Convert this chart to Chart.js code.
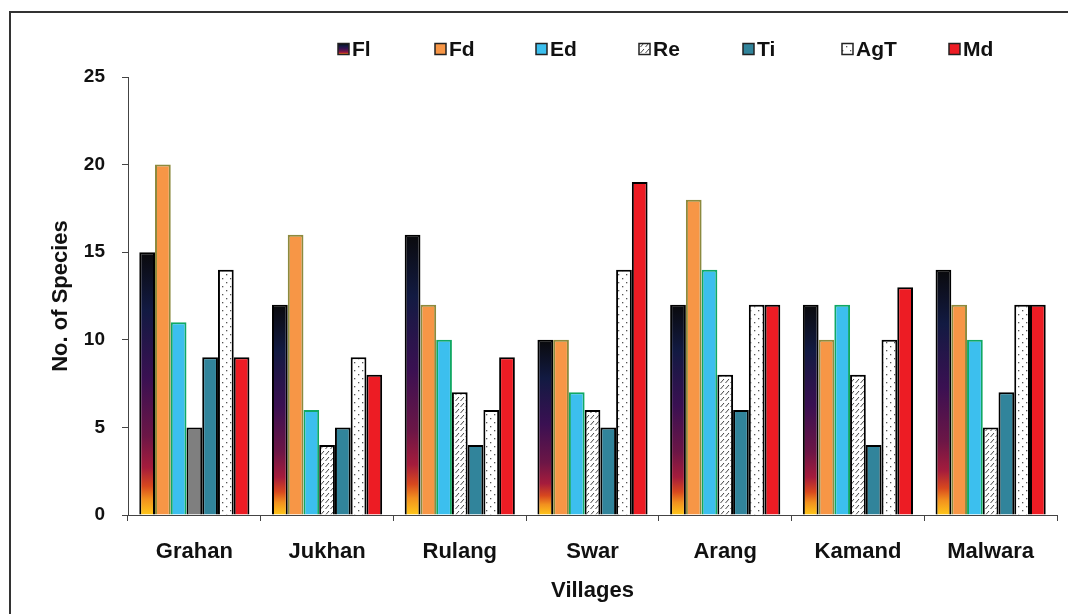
<!DOCTYPE html>
<html><head><meta charset="utf-8">
<script src="https://cdn.jsdelivr.net/npm/chart.js@4/dist/chart.umd.min.js"></script>
<style>html,body{margin:0;padding:0;background:#fff;}canvas{display:block}</style>
</head><body>
<canvas id="c" width="1068" height="614"></canvas>
<script>
const villages = ['Grahan','Jukhan','Rulang','Swar','Arang','Kamand','Malwara'];
const seriesNames = ['Fl','Fd','Ed','Re','Ti','AgT','Md'];
const Fl  = [15,12,16,10,12,12,14];
const Fd  = [20,16,12,10,18,10,12];
const Ed  = [11, 6,10, 7,14,12,10];
const Re  = [ 5, 4, 7, 6, 8, 8, 5];
const Ti  = [ 9, 5, 4, 5, 6, 4, 7];
const AgT = [14, 9, 6,14,12,10,12];
const Md  = [ 9, 8, 9,19,12,13,12];
const yMin = 0, yMax = 25, yStep = 5;
const xTitle = 'Villages';
const yTitle = 'No. of Species';

const FONT = "'Liberation Sans', Arial, sans-serif";

function makePattern(w, h, draw){
  const c = document.createElement('canvas'); c.width = w; c.height = h;
  const g = c.getContext('2d'); g.fillStyle = '#fff'; g.fillRect(0,0,w,h); draw(g);
  return document.getElementById('c').getContext('2d').createPattern(c, 'repeat');
}
const hatch = makePattern(5, 6, g => {
  g.strokeStyle = '#444'; g.lineWidth = 1;
  g.beginPath(); g.moveTo(0.5,5); g.lineTo(4,1); g.stroke();
});
const dots = makePattern(8, 8, g => {
  g.fillStyle = '#555'; g.fillRect(2,2,1.3,1.3); g.fillRect(6,6,1.3,1.3);
});

function gradStops(g){
  g.addColorStop(0, '#0a0a0c');
  g.addColorStop(0.22, '#121a42');
  g.addColorStop(0.48, '#3a1052');
  g.addColorStop(0.70, '#6c1646');
  g.addColorStop(0.82, '#a51c3c');
  g.addColorStop(0.89, '#d8481e');
  g.addColorStop(0.94, '#f2901e');
  g.addColorStop(1, '#ffc81a');
  return g;
}
function flFill(ctx){
  const chart = ctx.chart, y = chart.scales && chart.scales.y;
  if (!y || ctx.raw == null) return '#3a1052';
  const top = y.getPixelForValue(ctx.raw), bot = y.getPixelForValue(0);
  if (!isFinite(top) || !isFinite(bot) || top === bot) return '#3a1052';
  return gradStops(chart.ctx.createLinearGradient(0, top, 0, bot));
}
function reFill(ctx){ return ctx.dataIndex === 0 ? '#7f7f7f' : hatch; }

const seriesData = [Fl, Fd, Ed, Re, Ti, AgT, Md];
const fills   = [flFill, '#f79646', '#3cbfee', reFill, '#31849b', dots, '#ed1c24'];
const borders = ['#000', '#8c8a3e', '#10a864', '#000', '#000', '#000', '#000'];

const frame = {
  id: 'frame',
  beforeDraw(chart){
    const c = chart.ctx; c.save();
    c.fillStyle = '#fff'; c.fillRect(0,0,chart.width,chart.height);
    c.strokeStyle = '#333'; c.lineWidth = 2; c.strokeRect(10, 12, 1100, 700);
    c.restore();
  }
};
const legendPlugin = {
  id: 'customLegend',
  afterDraw(chart){
    const c = chart.ctx; c.save();
    const xs = [338, 435, 536, 639, 743, 842, 949];
    const yc = 49, bs = 11;
    c.font = "bold 21px " + FONT; c.textBaseline = 'middle'; c.fillStyle = '#111';
    chart.data.datasets.forEach((ds, i) => {
      const x = xs[i], y0 = yc - bs/2;
      let f = fills[i];
      if (i === 0) f = gradStops(c.createLinearGradient(0, y0, 0, y0+bs));
      else if (i === 3) f = hatch;
      c.fillStyle = f; c.fillRect(x, y0, bs, bs);
      c.strokeStyle = '#222'; c.lineWidth = 1.5; c.strokeRect(x, y0, bs, bs);
      c.fillStyle = '#111'; c.fillText(ds.label, x + bs + 3, yc + 1);
    });
    c.restore();
  }
};

new Chart(document.getElementById('c'), {
  type: 'bar',
  data: {
    labels: villages,
    datasets: seriesNames.map((n, i) => ({
      label: n, data: seriesData[i],
      backgroundColor: fills[i], borderColor: borders[i], borderWidth: 2,
      barPercentage: 1, categoryPercentage: 0.83
    }))
  },
  options: {
    responsive: false, animation: false,
    layout: { padding: { top: 77, right: 11, left: 0, bottom: 0 } },
    plugins: { legend: { display: false }, tooltip: { enabled: false } },
    scales: {
      x: {
        grid: { display: true, drawOnChartArea: false, drawTicks: true, tickLength: 6, color: '#444', offset: true },
        border: { display: true, color: '#444', width: 1 },
        ticks: { font: { family: FONT, weight: 'bold', size: 22 }, color: '#111', padding: 18, autoSkip: false, maxRotation: 0 },
        title: { display: true, text: xTitle, font: { family: FONT, weight: 'bold', size: 22 }, color: '#111', padding: { top: 0, bottom: 10 } },
        afterFit(s){ s.height = 99; }
      },
      y: {
        min: yMin, max: yMax,
        grid: { display: true, drawOnChartArea: false, drawTicks: true, tickLength: 6, color: '#444' },
        border: { display: true, color: '#444', width: 1 },
        ticks: { stepSize: yStep, font: { family: FONT, weight: 'bold', size: 19 }, color: '#111', padding: 17 },
        title: { display: true, text: yTitle, font: { family: FONT, weight: 'bold', size: 22 }, color: '#111', padding: { top: 48, bottom: 0 } },
        afterFit(s){ s.width = 128; }
      }
    }
  },
  plugins: [frame, legendPlugin]
});
</script>
</body></html>
